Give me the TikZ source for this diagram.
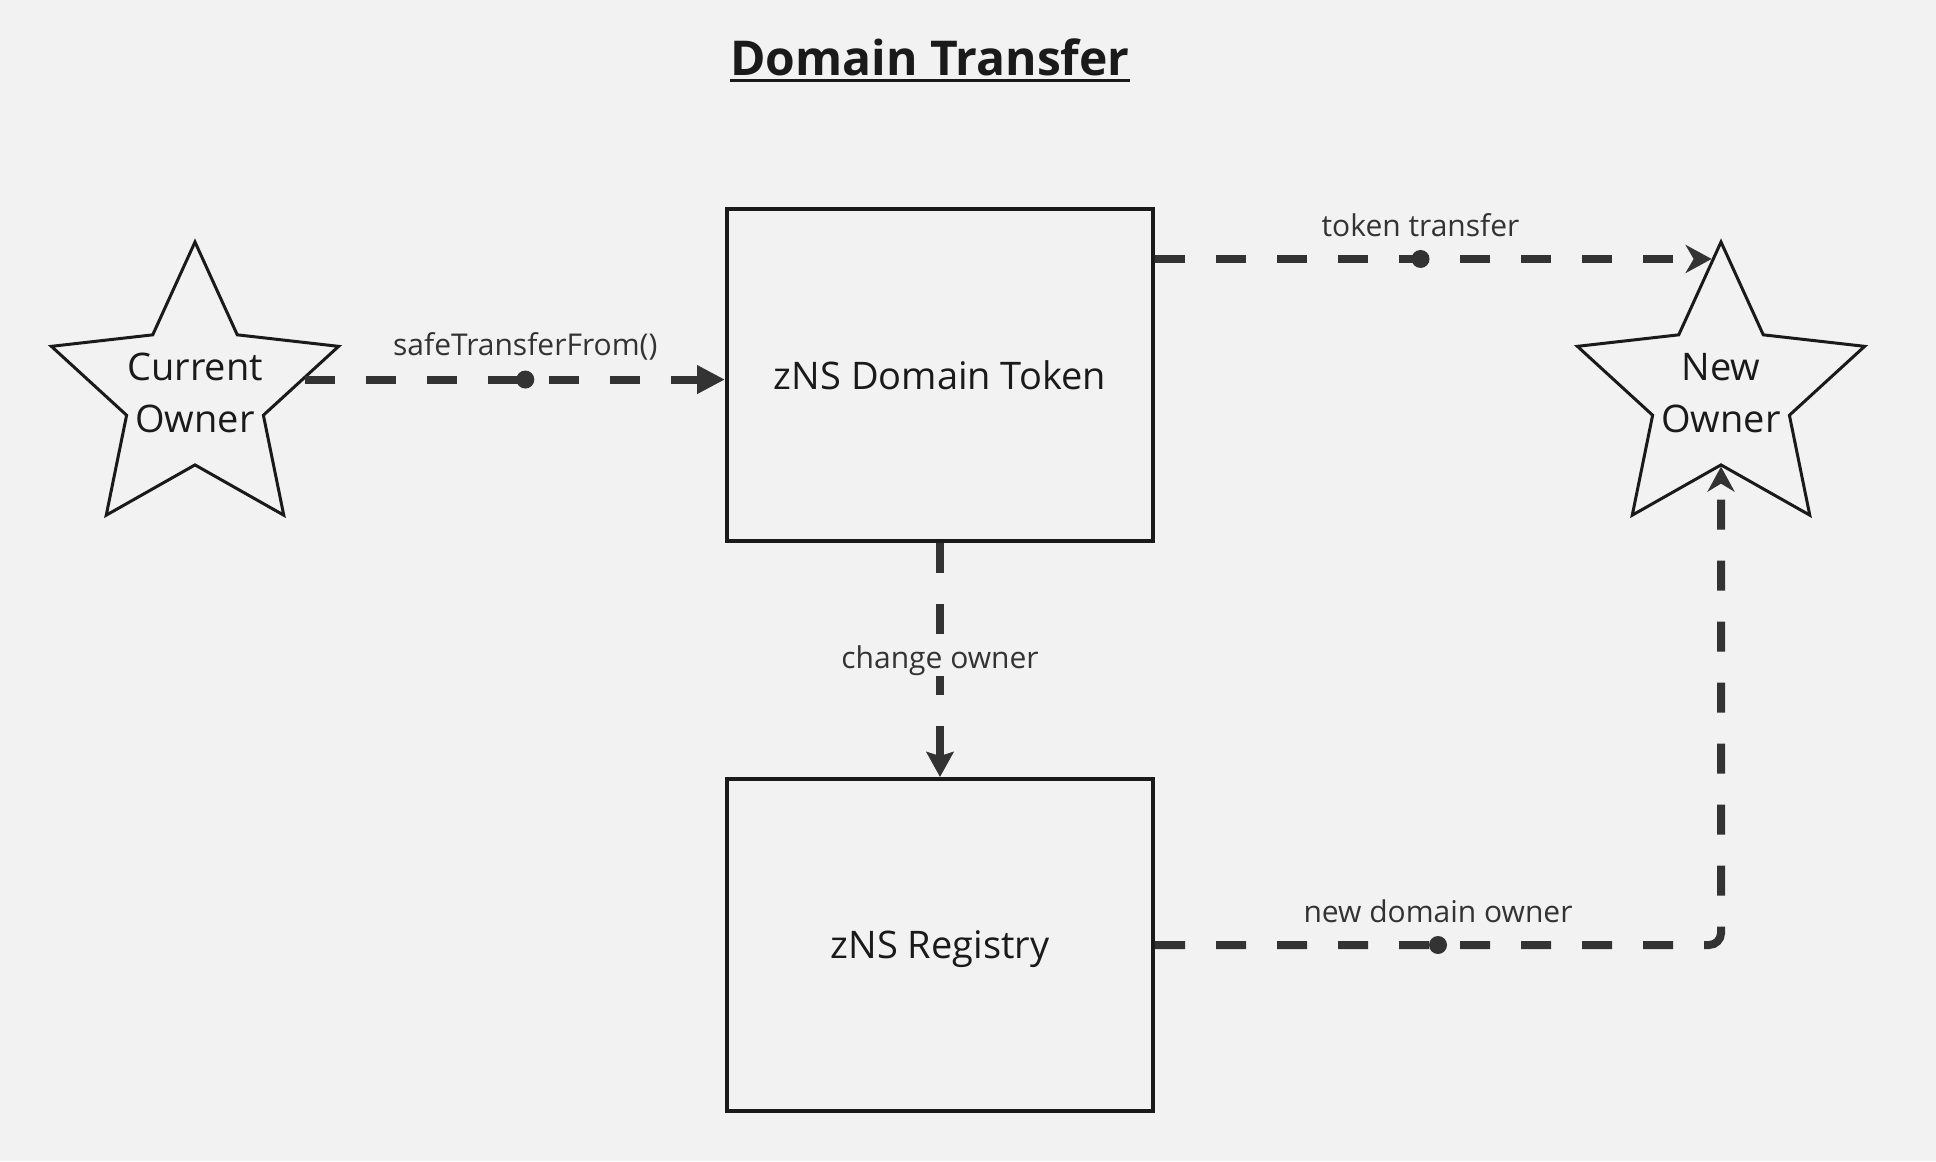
\documentclass[tikz,border=0pt]{standalone}
\usepackage{fontspec}
\setmainfont{Open Sans}
\usetikzlibrary{shapes.geometric,arrows.meta}
\definecolor{bg}{HTML}{F2F2F2}
\definecolor{ink}{HTML}{1A1A1A}
\definecolor{linegray}{HTML}{333333}

\begin{document}
\begin{tikzpicture}[x=0.5pt,y=-0.5pt,node distance=372.5pt,>=Stealth]
\tikzstyle{block}=[draw=ink,line width=2pt,minimum width=213pt,minimum height=166pt,text=ink,text depth=0pt,font=\fontsize{19}{26}\selectfont]
\tikzstyle{actor}=[star,star points=5,star point ratio=2.1,draw=ink,line width=1.5pt,minimum size=151pt,inner sep=0pt]
\tikzstyle{actortext}=[align=center,text=ink,font=\fontsize{19}{26}\selectfont]
\tikzstyle{wire}=[draw=linegray,line width=4pt,dash pattern=on 15pt off 15.5pt]
\tikzstyle{tag}=[text=linegray,font=\fontsize{15}{18}\selectfont,text height=11pt,text depth=3pt,inner sep=1pt]
\tikzstyle{knot}=[circle,fill=linegray,inner sep=0pt,minimum size=9pt]
\fill[bg] (0,0) rectangle (1936,1161);
\node[font=\bfseries\fontsize{24}{28}\selectfont,text=ink,inner sep=0pt] (title) at (930,57) {Domain Transfer};
\draw[ink,line width=1.5pt] ([yshift=-2.5pt]title.base west) -- ([yshift=-2.5pt]title.base east);

\node[block] (token) at (940,375) {zNS Domain Token};
\node[block][below of=token,node distance=285pt] (registry) {zNS Registry};
\node[actor,label={[actortext]center:Current\\Owner}][left of=token,yshift=-9pt] (current) {};
\node[actor,label={[actortext]center:New\\Owner}][right of=token,node distance=390.5pt,yshift=-9pt] (new) {};

\path (current.7) edge[wire,-{Triangle[length=14pt,width=13.5pt]}] node[pos=.525,knot]{} node[pos=.525,tag,yshift=16pt]{safeTransferFrom()} (current.7 -| token.west)
      (token.east |- new.94) edge[wire,-{Stealth[length=13pt,width=14pt,inset=4pt]}] node[pos=.477,knot]{} node[pos=.477,tag,yshift=15pt]{token transfer} (new.94)
      (token) edge[wire,-{Stealth[length=12.5pt,width=13.5pt,inset=2pt]}] node[tag,fill=bg]{change owner} (registry);
\draw[wire,rounded corners=6pt,-{Stealth[length=12.5pt,width=13.5pt,inset=4pt]}] (registry.east) -| node[pos=.25,knot]{} node[pos=.25,tag,yshift=15.5pt]{new domain owner} (new.270);
\end{tikzpicture}
\end{document}
